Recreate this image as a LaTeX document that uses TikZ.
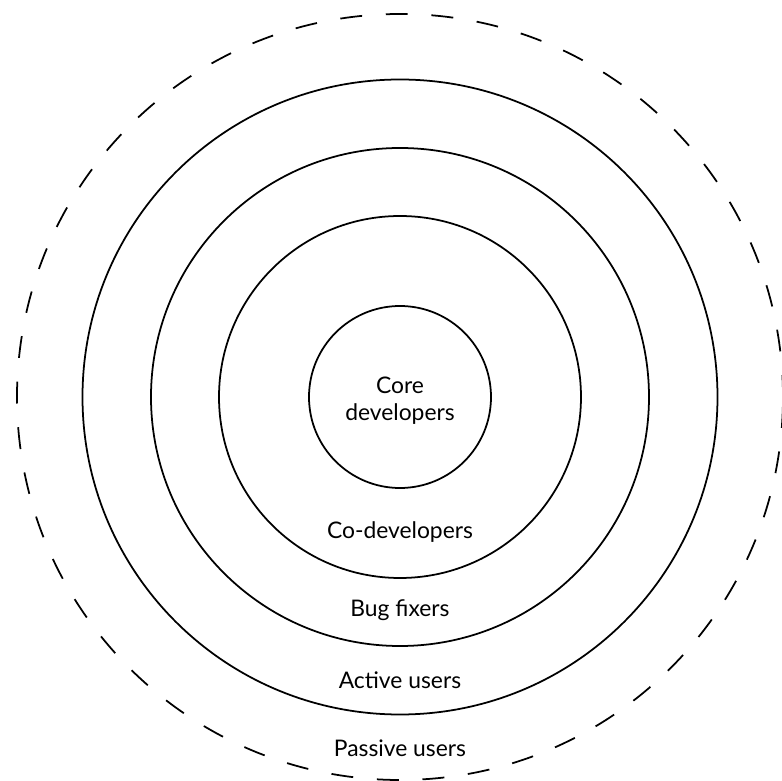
\documentclass[tikz,border=0pt]{standalone}
\usepackage{fontspec}
\setmainfont{Lato}
\usetikzlibrary{positioning}

\begin{document}
\begin{tikzpicture}[
    ring/.style={draw, circle, line width=1pt, inner sep=0pt},
    lbl/.style={font=\fontsize{13}{15.5}\selectfont, align=center}
]
    \useasboundingbox (-8.0,-7.68) rectangle (7.64,7.94);

    % Onion rings (outermost dashed)
    \node[ring, dash pattern=on 12.5pt off 13.5pt, minimum size=15.32cm] (passive) at (0,0) {};
    \node[ring, minimum size=12.7cm] (active) at (0,0) {};
    \node[ring, minimum size=9.96cm] (bugfix) at (0,0) {};
    \node[ring, minimum size=7.24cm] (codev) at (0,0) {};
    \node[ring, minimum size=3.64cm] (core) at (0,0) {};

    % Ring labels
    \node[lbl] (corelbl) at (0,-0.08) {Core\\developers};
    \node[lbl] (codevlbl) at (0,-2.7) {Co-developers};
    \node[lbl] (bugfixlbl) at (0,-4.26) {Bug fixers};
    \node[lbl] (activelbl) at (0,-5.66) {Active users};
    \node[lbl] (passivelbl) at (0,-7.02) {Passive users};
\end{tikzpicture}
\end{document}
